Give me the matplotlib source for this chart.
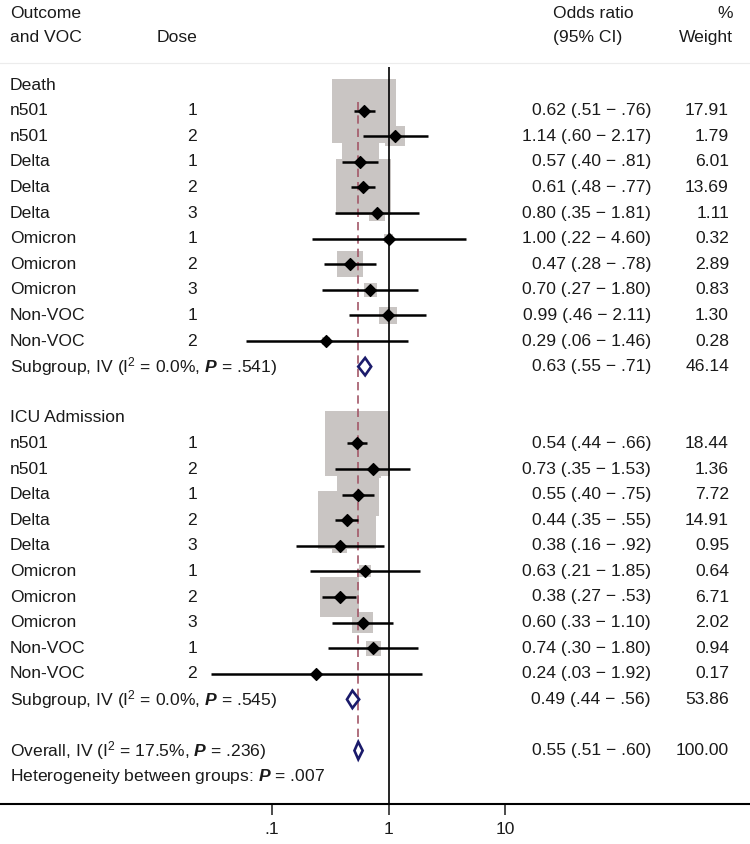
import numpy as np
import matplotlib.pyplot as plt
from matplotlib.patches import Polygon
from matplotlib import transforms

plt.rcParams['font.family'] = ['Liberation Sans', 'DejaVu Sans']
plt.rcParams['font.size'] = 12.6
plt.rcParams['mathtext.fontset'] = 'custom'
plt.rcParams['mathtext.rm'] = 'Liberation Sans'
plt.rcParams['mathtext.it'] = 'Liberation Sans'
plt.rcParams['mathtext.bf'] = 'Liberation Sans:italic:bold'

# data
voc = ["n501", "n501", "Delta", "Delta", "Delta", "Omicron", "Omicron", "Omicron", "Non-VOC", "Non-VOC"]
dose = [1, 2, 1, 2, 3, 1, 2, 3, 1, 2]

death_or = [0.62, 1.14, 0.57, 0.61, 0.80, 1.00, 0.47, 0.70, 0.99, 0.29]
death_lo = [0.51, 0.60, 0.40, 0.48, 0.35, 0.22, 0.28, 0.27, 0.46, 0.06]
death_hi = [0.76, 2.17, 0.81, 0.77, 1.81, 4.60, 0.78, 1.80, 2.11, 1.46]
death_w = [17.91, 1.79, 6.01, 13.69, 1.11, 0.32, 2.89, 0.83, 1.30, 0.28]

icu_or = [0.54, 0.73, 0.55, 0.44, 0.38, 0.63, 0.38, 0.60, 0.74, 0.24]
icu_lo = [0.44, 0.35, 0.40, 0.35, 0.16, 0.21, 0.27, 0.33, 0.30, 0.03]
icu_hi = [0.66, 1.53, 0.75, 0.55, 0.92, 1.85, 0.53, 1.10, 1.80, 1.92]
icu_w = [18.44, 1.36, 7.72, 14.91, 0.95, 0.64, 6.71, 2.02, 0.94, 0.17]

pooled_labels = [r"Subgroup, IV (I$^2$ = 0.0%, $\mathbf{P}$ = .541)",
                 r"Subgroup, IV (I$^2$ = 0.0%, $\mathbf{P}$ = .545)",
                 r"Overall, IV (I$^2$ = 17.5%, $\mathbf{P}$ = .236)"]
pooled_or = [0.63, 0.49, 0.55]
pooled_lo = [0.55, 0.44, 0.51]
pooled_hi = [0.71, 0.56, 0.60]
pooled_w = [46.14, 53.86, 100.00]


def fmt(v):
    s = f"{v:.2f}"
    return s[1:] if v < 1 else s


def ci_text(e, l, h):
    return f"{e:.2f} ({fmt(l)} \u2212 {fmt(h)})"


# layout (pixels of a 750 x 844 picture)
W, H = 750, 844
row0, step = 85, 25.6
x_one, decade = 388.5, 116.5
axis_px = 804

fig = plt.figure(figsize=(7.5, 8.44), dpi=100)
ax = fig.add_axes([0, (H - axis_px) / H, 1, axis_px / H])
ax.set_xscale('log')
ax.set_xlim(10 ** ((0 - x_one) / decade), 10 ** ((W - x_one) / decade))
ax.set_ylim((axis_px - row0) / step, -row0 / step)
tr = transforms.blended_transform_factory(ax.transAxes, ax.transData)

col_voc, col_dose, col_or, col_w = 10 / W, 197 / W, 651 / W, 729 / W
txt = dict(transform=tr, va='center', color='#1a1a1a')

# header
ax.text(col_voc, -2.81, "Outcome", ha='left', **txt)
ax.text(col_voc, -1.875, "and VOC", ha='left', **txt)
ax.text(col_dose, -1.875, "Dose", ha='right', **txt)
ax.text(553 / W, -2.81, "Odds ratio", ha='left', **txt)
ax.text(553 / W, -1.875, "(95% CI)", ha='left', **txt)
ax.text(733 / W, -2.81, "%", ha='right', **txt)
ax.text(733 / W, -1.875, "Weight", ha='right', **txt)
ax.axhline(-0.86, color='#ececec', lw=0.8)

box_color = '#c9c5c3'
px2pt = 72 / 100


def draw_group(title, start, ors, los, his, ws):
    ax.text(col_voc, start, title, ha='left', **txt)
    ys = np.arange(len(ors)) + start + 1
    ax.scatter(ors, ys, marker='s', s=(15.1 * px2pt) ** 2 * np.array(ws),
               color=box_color, linewidths=0, zorder=1)
    ax.hlines(ys, los, his, color='black', lw=1.8, zorder=3)
    ax.scatter(ors, ys, marker='D', s=36, color='black', zorder=4)
    for y, v, d, e, l, h, w in zip(ys, voc, dose, ors, los, his, ws):
        ax.text(col_voc, y, v, ha='left', **txt)
        ax.text(col_dose, y, str(d), ha='right', **txt)
        ax.text(col_or, y, ci_text(e, l, h), ha='right', **txt)
        ax.text(col_w, y, f"{w:.2f}", ha='right', **txt)


draw_group("Death", 0, death_or, death_lo, death_hi, death_w)
draw_group("ICU Admission", 13, icu_or, icu_lo, icu_hi, icu_w)

pooled_rows = [11, 24, 26]
for y, lab, e, l, h, w in zip(pooled_rows, pooled_labels, pooled_or, pooled_lo, pooled_hi, pooled_w):
    dh = 0.34
    ax.add_patch(Polygon([(l, y), (e, y - dh), (h, y), (e, y + dh)], closed=True,
                         facecolor='white', edgecolor='#1b1b6b', lw=1.9, zorder=5))
    ax.text(col_voc, y, lab, ha='left', **txt)
    ax.text(col_or, y, ci_text(e, l, h), ha='right', **txt)
    ax.text(col_w, y, f"{w:.2f}", ha='right', **txt)
ax.text(col_voc, 27, r"Heterogeneity between groups: $\mathbf{P}$ = .007", ha='left', **txt)

# reference lines
ax.vlines(1, -0.70, (axis_px - row0) / step, color='black', lw=1.2, zorder=6)
ax.vlines(pooled_or[2], 0.65, 25.7, color='#a35868', lw=1.2, linestyles=(0, (5, 3)), zorder=2)

# x axis
for s in ['left', 'right', 'top']:
    ax.spines[s].set_visible(False)
ax.spines['bottom'].set_linewidth(1.5)
ax.set_yticks([])
ax.set_xticks([0.1, 1, 10])
ax.set_xticklabels(['.1', '1', '10'])
ax.xaxis.set_minor_locator(plt.NullLocator())
ax.tick_params(axis='x', direction='out', length=8, width=1.1, pad=5, labelsize=12.6, colors='#1a1a1a')

plt.savefig("out.png", dpi=100)
